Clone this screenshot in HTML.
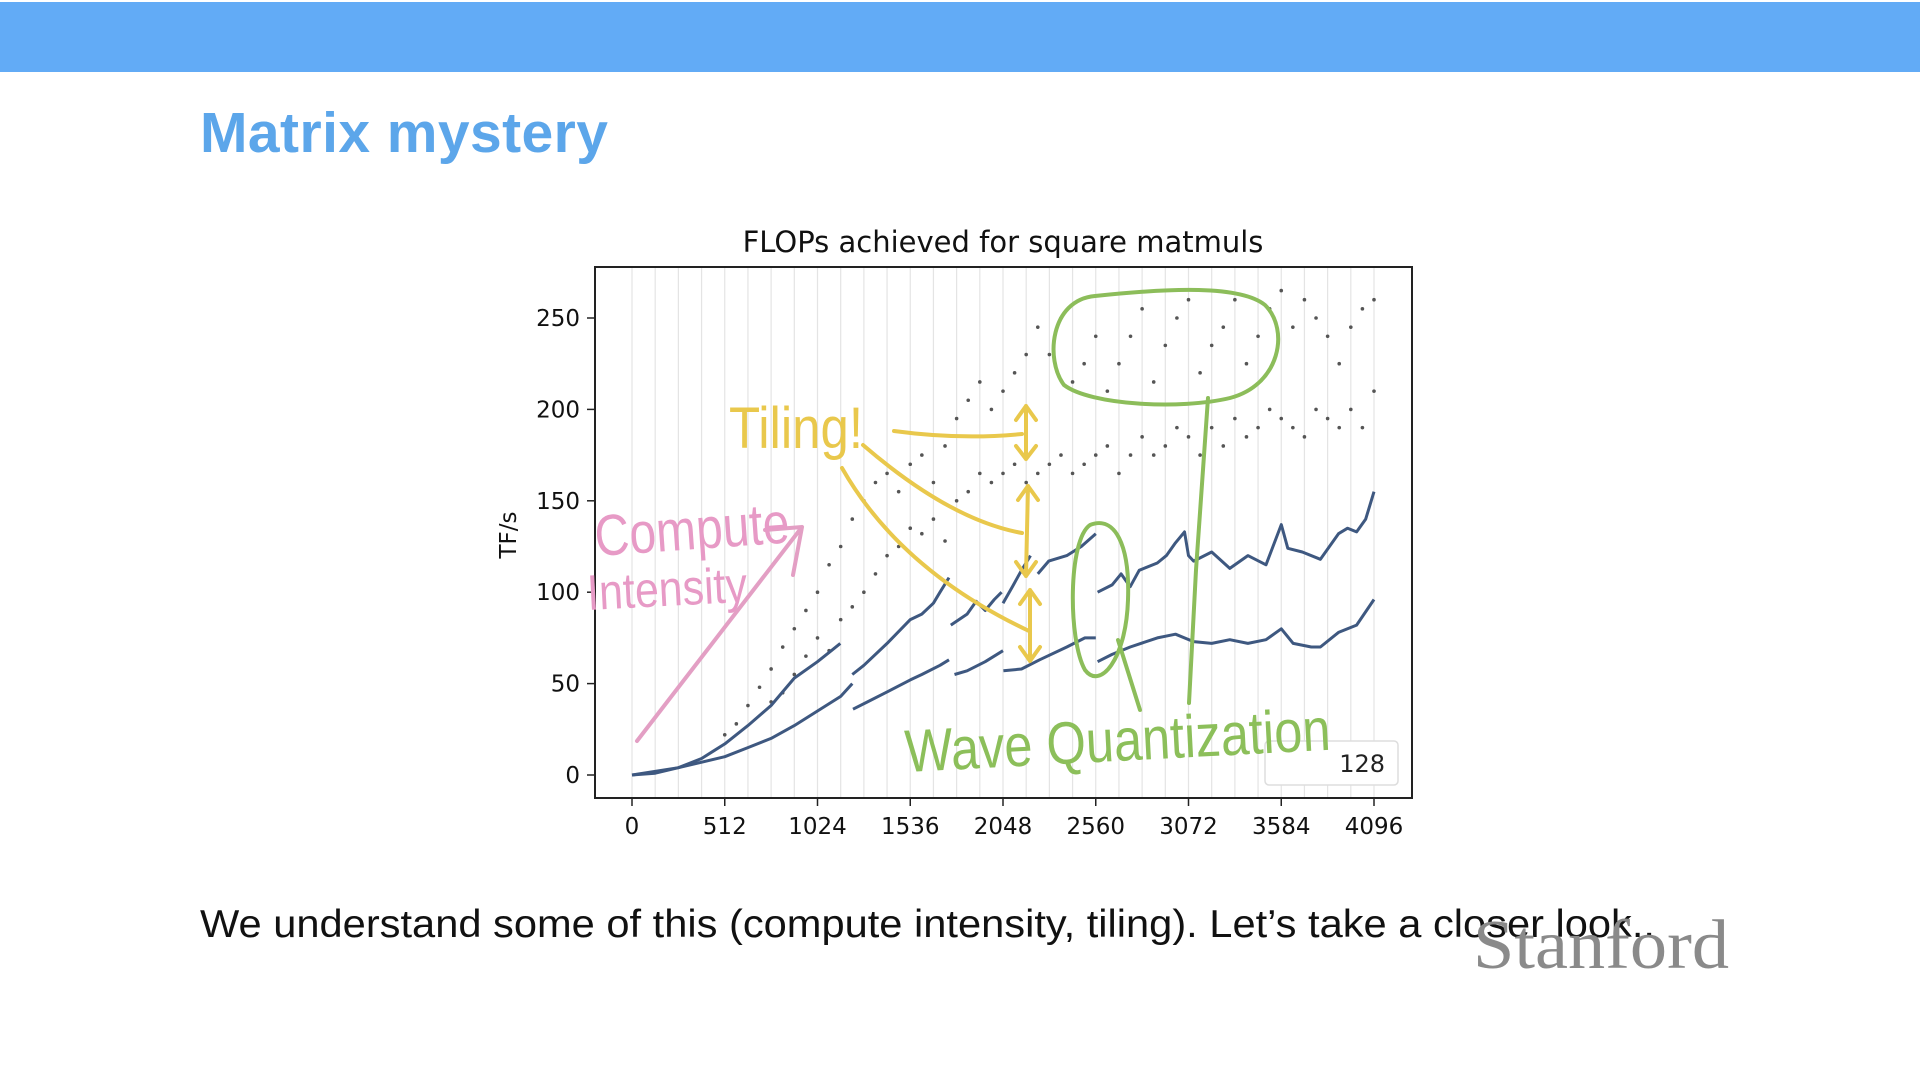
<!DOCTYPE html>
<html><head><meta charset="utf-8">
<style>
html,body{margin:0;padding:0;background:#fff;width:1920px;height:1080px;overflow:hidden;}
svg{display:block;}
</style></head>
<body>
<svg id="page" width="1920" height="1080" viewBox="0 0 1920 1080" xmlns="http://www.w3.org/2000/svg">
  <rect x="0" y="0" width="1920" height="1080" fill="#ffffff"/>
  <rect x="0" y="2" width="1920" height="70" fill="#62abf6"/>
  <text x="200" y="152" font-family="Liberation Sans, sans-serif" font-weight="bold" font-size="57" fill="#5ca6ea" textLength="408">Matrix mystery</text>

  <text x="1003" y="252" text-anchor="middle" font-family="DejaVu Sans, sans-serif" font-size="29" fill="#111">FLOPs achieved for square matmuls</text>
  <g id="grid"></g>
  <g id="series"></g>
  <rect x="595" y="267" width="817" height="531" fill="none" stroke="#222" stroke-width="2"/>
  <g id="axes"></g>
  <text x="0" y="0" transform="translate(516,535) rotate(-90)" text-anchor="middle" font-family="DejaVu Sans, sans-serif" font-size="23" fill="#111">TF/s</text>

  <g>
    <rect x="1265" y="741" width="133" height="44" rx="4" fill="#fff" stroke="#ddd" stroke-width="1.5"/>
    <text x="1385" y="772" text-anchor="end" font-family="DejaVu Sans, sans-serif" font-size="24" fill="#222">128</text>
  </g>

  <g fill="none" stroke-linecap="round" stroke-linejoin="round">
    <path d="M637 741 L802 527 M765 530 L802 527 L793 575" stroke="#e39fc4" stroke-width="4"/>
    <text x="0" y="0" transform="translate(596,556) rotate(-4)" font-family="Liberation Sans, sans-serif" font-size="58" fill="#e79ac6" stroke="none" textLength="195" lengthAdjust="spacingAndGlyphs">Compute</text>
    <text x="0" y="0" transform="translate(588,610) rotate(-3)" font-family="Liberation Sans, sans-serif" font-size="50" fill="#e79ac6" stroke="none" textLength="160" lengthAdjust="spacingAndGlyphs">Intensity</text>

    <text x="729" y="448" font-family="Liberation Sans, sans-serif" font-size="58" fill="#e9c84c" stroke="none" textLength="134" lengthAdjust="spacingAndGlyphs">Tiling!</text>
    <path d="M894 431 Q960 440 1022 434" stroke="#e9c84c" stroke-width="4"/>
    <path d="M863 445 Q950 520 1022 533" stroke="#e9c84c" stroke-width="4"/>
    <path d="M842 468 Q900 570 1029 631" stroke="#e9c84c" stroke-width="4"/>
    <path d="M1026 406 L1026 459 M1016 420 L1026 406 L1036 420 M1016 446 L1026 459 L1036 446" stroke="#e9c84c" stroke-width="4"/>
    <path d="M1028 486 L1026 576 M1018 500 L1028 486 L1038 500 M1016 562 L1026 576 L1036 562" stroke="#e9c84c" stroke-width="4"/>
    <path d="M1030 590 L1030 661 M1020 604 L1030 590 L1040 604 M1020 647 L1030 661 L1040 647" stroke="#e9c84c" stroke-width="4"/>

    <path d="M1095 296 C1170 288 1240 285 1265 305 C1290 330 1280 385 1230 398 C1180 410 1090 405 1064 385 C1045 360 1050 300 1095 296 Z" stroke="#8cbd5a" stroke-width="4"/>
    <path d="M1208 398 L1196 570 L1189 703" stroke="#8cbd5a" stroke-width="4"/>
    <path d="M1090 525 C1115 515 1130 545 1128 600 C1126 660 1100 690 1085 670 C1068 640 1068 540 1090 525 Z M1118 640 L1140 710" stroke="#8cbd5a" stroke-width="4"/>
    <text x="0" y="0" transform="translate(906,772) rotate(-3)" font-family="Liberation Sans, sans-serif" font-size="60" fill="#8cbf5a" stroke="none" textLength="426" lengthAdjust="spacingAndGlyphs">Wave Quantization</text>
  </g>

  <text x="200" y="937" font-family="Liberation Sans, sans-serif" font-size="39" fill="#111" textLength="1455" lengthAdjust="spacingAndGlyphs">We understand some of this (compute intensity, tiling). Let’s take a closer look..</text>
  <text x="1473" y="968" font-family="Liberation Serif, serif" font-size="70" fill="#8a8a8a" textLength="256" lengthAdjust="spacingAndGlyphs">Stanford</text>
</svg>
<script>
const xTicks = [0,512,1024,1536,2048,2560,3072,3584,4096];
const yTicks = [0,50,100,150,200,250];
const upperLineX = [0,128,256,384,448,512,640,768,896,1024,1100,1150,null,1216,1280,1408,1536,1600,1664,1700,1750,null,1760,1850,1900,1950,2000,2040,null,2048,2100,2150,2200,null,2240,2300,2400,2480,2560,null,2570,2650,2700,2750,2800,2900,2950,3000,3050,3072,3100,3200,3300,3400,3500,3584,3620,3700,3800,3900,3950,4000,4050,4096];
const upperLineY = [0,1,4,9,13,17,27,38,53,62,68,72,null,55,60,72,85,88,94,100,108,null,82,88,95,90,96,100,null,94,103,112,120,null,110,117,120,125,132,null,100,104,110,103,112,116,120,127,133,120,117,122,113,120,115,137,124,122,118,132,135,133,140,155];
const lowerLineX = [0,256,512,640,768,896,1024,1152,1216,null,1220,1300,1400,1536,1600,1700,1750,null,1780,1850,1950,2048,null,2050,2150,2250,2400,2500,2560,null,2570,2650,2750,2900,3000,3100,3200,3300,3400,3500,3584,3650,3750,3800,3900,4000,4096];
const lowerLineY = [0,4,10,15,20,27,35,43,50,null,36,40,45,52,55,60,63,null,55,57,62,68,null,57,58,63,70,75,75,null,62,66,70,75,77,73,72,74,72,74,80,72,70,70,78,82,96];
const dotsTopX = [512,576,640,704,768,832,896,960,1024,1088,1152,1216,1280,1344,1408,1472,1536,1600,1664,1728,1792,1856,1920,1984,2048,2112,2176,2240,2304,2368,2432,2496,2560,2624,2688,2752,2816,2880,2944,3008,3072,3136,3200,3264,3328,3392,3456,3520,3584,3648,3712,3776,3840,3904,3968,4032,4096];
const dotsTopY = [22,28,38,48,58,70,80,90,100,115,125,140,150,160,165,155,170,175,160,180,195,205,215,200,210,220,230,245,230,250,215,225,240,210,225,240,255,215,235,250,260,220,235,245,260,225,240,255,265,245,260,250,240,225,245,255,260];
const dotsLowX = [768,832,896,960,1024,1088,1152,1216,1280,1344,1408,1472,1536,1600,1664,1728,1792,1856,1920,1984,2048,2112,2176,2240,2304,2368,2432,2496,2560,2624,2688,2752,2816,2880,2944,3008,3072,3136,3200,3264,3328,3392,3456,3520,3584,3648,3712,3776,3840,3904,3968,4032,4096];
const dotsLowY = [40,45,55,65,75,68,85,92,100,110,120,125,135,132,140,128,150,155,165,160,165,170,160,165,170,175,165,170,175,180,165,175,185,175,180,190,185,175,190,180,195,185,190,200,195,190,185,200,195,190,200,190,210];

const NS = 'http://www.w3.org/2000/svg';
const X = v => 632 + v / 4096 * 742;
const Y = v => 775 - v / 250 * 457;

const grid = document.getElementById('grid');
for (let g = 0; g <= 4096; g += 128) {
  const l = document.createElementNS(NS, 'line');
  l.setAttribute('x1', X(g)); l.setAttribute('x2', X(g));
  l.setAttribute('y1', 268); l.setAttribute('y2', 797);
  l.setAttribute('stroke', '#e4e4e4'); l.setAttribute('stroke-width', '1.2');
  
  
  grid.appendChild(l);
}

const axes = document.getElementById('axes');
xTicks.forEach(t => {
  const l = document.createElementNS(NS, 'line');
  l.setAttribute('x1', X(t)); l.setAttribute('x2', X(t));
  l.setAttribute('y1', 798); l.setAttribute('y2', 806);
  l.setAttribute('stroke', '#222'); l.setAttribute('stroke-width', '1.5');
  
  
  axes.appendChild(l);
  const tx = document.createElementNS(NS, 'text');
  tx.setAttribute('x', X(t)); tx.setAttribute('y', 834);
  tx.setAttribute('text-anchor', 'middle');
  tx.setAttribute('font-family', 'DejaVu Sans, sans-serif');
  tx.setAttribute('font-size', '23'); tx.setAttribute('fill', '#111');
  tx.textContent = t;
  
  
  axes.appendChild(tx);
});
yTicks.forEach(t => {
  const l = document.createElementNS(NS, 'line');
  l.setAttribute('x1', 587); l.setAttribute('x2', 595);
  l.setAttribute('y1', Y(t)); l.setAttribute('y2', Y(t));
  l.setAttribute('stroke', '#222'); l.setAttribute('stroke-width', '1.5');
  
  
  axes.appendChild(l);
  const tx = document.createElementNS(NS, 'text');
  tx.setAttribute('x', 580); tx.setAttribute('y', Y(t) + 8);
  tx.setAttribute('text-anchor', 'end');
  tx.setAttribute('font-family', 'DejaVu Sans, sans-serif');
  tx.setAttribute('font-size', '23'); tx.setAttribute('fill', '#111');
  tx.textContent = t;
  
  
  axes.appendChild(tx);
});

const series = document.getElementById('series');
function drawDots(xs, ys, name) {
  xs.forEach((x, i) => {
    const c = document.createElementNS(NS, 'circle');
    c.setAttribute('cx', X(x)); c.setAttribute('cy', Y(ys[i]));
    c.setAttribute('r', 1.8); c.setAttribute('fill', '#555');
    
    
    series.appendChild(c);
  });
}
drawDots(dotsTopX, dotsTopY, 'scatter-point-top');
drawDots(dotsLowX, dotsLowY, 'scatter-point-low');

function drawLine(xs, ys, name) {
  let d = '', start = true;
  xs.forEach((x, i) => {
    if (x === null || ys[i] === null) { start = true; return; }
    d += (start ? 'M' : 'L') + X(x).toFixed(1) + ' ' + Y(ys[i]).toFixed(1) + ' ';
    start = false;
  });
  const p = document.createElementNS(NS, 'path');
  p.setAttribute('d', d); p.setAttribute('fill', 'none');
  p.setAttribute('stroke', '#3e5880'); p.setAttribute('stroke-width', '3');
  p.setAttribute('stroke-linejoin', 'round');
  
  
  series.appendChild(p);
}
drawLine(upperLineX, upperLineY, 'upper-line-series');
drawLine(lowerLineX, lowerLineY, 'lower-line-series');
</script>
</body></html>
